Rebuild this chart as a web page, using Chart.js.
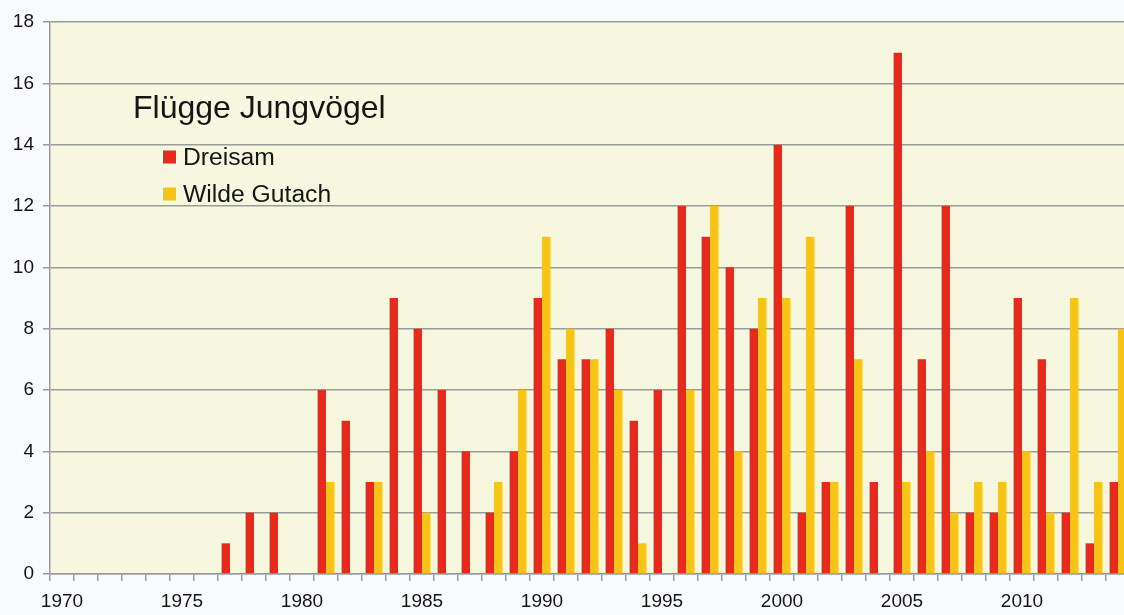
<!DOCTYPE html>
<html>
<head>
<meta charset="utf-8">
<script src="https://cdn.jsdelivr.net/npm/chart.js@4/dist/chart.umd.min.js"></script>
<style>
  html, body { margin: 0; padding: 0; background: #f9fafc; overflow: hidden; }
  #wrap { position: relative; width: 1134px; height: 615px; }
</style>
</head>
<body>
<div id="wrap"><canvas id="c" width="1134" height="615"></canvas></div>
<script>
const years = [];
for (let y = 1970; y <= 2014; y++) years.push(String(y));

const dreisam = [0,0,0,0,0,0,0,1,2,2, 0,6,5,3,9,8,6,4,2,4, 9,7,7,8,5,6,12,11,10,8, 14,2,3,12,3,17,7,12,2,2, 9,7,2,1,3];
const wildeGutach = [0,0,0,0,0,0,0,0,0,0, 0,3,0,3,0,2,0,0,3,6, 11,8,7,6,1,0,6,12,4,9, 9,11,3,7,0,3,4,2,3,3, 4,2,9,3,8];

const legendTitle = 'Flügge Jungvögel';
const seriesNames = ['Dreisam', 'Wilde Gutach'];
const seriesColors = ['#e8291d', '#f6c416'];

const gridColor = '#979d9d';
const textColor = '#151515';
const FONT = '"Liberation Sans", Arial, sans-serif';

const plotBg = {
  id: 'plotBg',
  beforeDraw(chart) {
    const a = chart.chartArea, ctx = chart.ctx;
    ctx.save();
    ctx.fillStyle = '#f7f7df';
    ctx.fillRect(a.left, a.top, a.right - a.left, a.bottom - a.top);
    ctx.restore();
  }
};

const innerLegend = {
  id: 'innerLegend',
  afterDatasetsDraw(chart) {
    const ctx = chart.ctx;
    ctx.save();
    ctx.fillStyle = textColor;
    ctx.textBaseline = 'middle';
    ctx.textAlign = 'left';
    ctx.font = '32px ' + FONT;
    ctx.fillText(legendTitle, 133, 109);
    ctx.font = '24.7px ' + FONT;
    const ys = [157, 194];
    chart.data.datasets.forEach((ds, i) => {
      ctx.fillStyle = ds.backgroundColor;
      ctx.fillRect(163, ys[i] - 6.5, 13, 13);
      ctx.fillStyle = textColor;
      ctx.fillText(ds.label, 183, ys[i] + 1);
    });
    ctx.restore();
  }
};

new Chart(document.getElementById('c'), {
  type: 'bar',
  data: {
    labels: years,
    datasets: [
      { label: seriesNames[0], data: dreisam, backgroundColor: seriesColors[0] },
      { label: seriesNames[1], data: wildeGutach, backgroundColor: seriesColors[1] }
    ]
  },
  options: {
    responsive: false,
    animation: false,
    devicePixelRatio: 1,
    layout: { padding: { top: 22, right: 4, left: 0, bottom: 0 } },
    datasets: { bar: { categoryPercentage: 0.7, barPercentage: 1.0 } },
    plugins: { legend: { display: false }, tooltip: { enabled: false } },
    scales: {
      x: {
        offset: true,
        grid: { offset: true, drawOnChartArea: false, drawTicks: true, tickLength: 7, color: gridColor, lineWidth: 1.5 },
        border: { color: gridColor, width: 1.5 },
        ticks: {
          autoSkip: false, maxRotation: 0, minRotation: 0, padding: 9,
          color: textColor, font: { family: FONT, size: 19 },
          callback: function(v, i) { const y = Number(years[i]); return y % 5 === 0 ? years[i] : ''; }
        },
        afterFit(scale) { scale.height = 41; }
      },
      y: {
        min: 0, max: 18,
        grid: { color: gridColor, lineWidth: 1.5, tickLength: 7 },
        border: { color: gridColor, width: 1.5 },
        ticks: { stepSize: 2, padding: 9, color: textColor, font: { family: FONT, size: 19 } },
        afterFit(scale) { scale.width = 50; }
      }
    }
  },
  plugins: [plotBg, innerLegend]
});
</script>
</body>
</html>
